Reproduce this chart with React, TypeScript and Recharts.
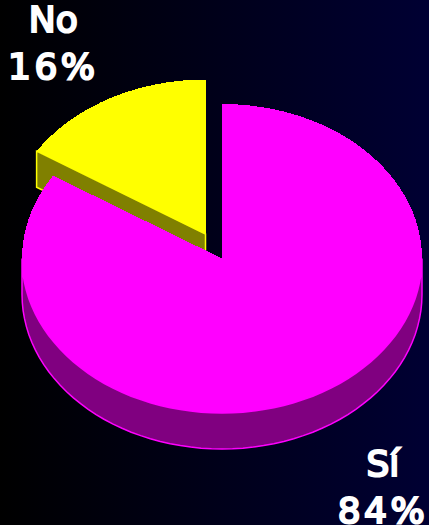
import React from 'react';
import { PieChart, Pie } from 'recharts';

const categories = ['No', 'Sí'];
const shares = [16, 84];
const topColors = ['#ffff00', '#ff00ff'];
const wallColors = ['#808000', '#800080'];

const rows = categories.map((name, i) => ({ name, value: shares[i] }));

// fake 3D look: the circle is squashed into an ellipse and given a wall
const SQUASH = 0.7725;
const DEPTH = 36;
const EXPLODE = [{ dx: -16.5, dy: -24.5 }, { dx: 0, dy: 0 }];
const LABEL_REACH = [{ x: 1.58, y: 1.41 }, { x: 1.67, y: 1.69 }];

const rad = (deg: number) => (deg * Math.PI) / 180;

const toPath = (pts: number[][]) =>
  pts.map((p, i) => `${i ? 'L' : 'M'}${p[0].toFixed(1)},${p[1].toFixed(1)}`).join(' ') + ' Z';

const Slice = (props: any) => {
  const { cx, cy, outerRadius, startAngle, endAngle, index } = props;
  const { dx, dy } = EXPLODE[index];
  const x0 = cx + dx;
  const y0 = cy + dy;
  const at = (deg: number, drop = 0) => [
    x0 + outerRadius * Math.cos(rad(deg)),
    y0 - outerRadius * SQUASH * Math.sin(rad(deg)) + drop,
  ];

  const arc: number[][] = [];
  const steps = Math.ceil(Math.abs(endAngle - startAngle) / 3);
  for (let s = 0; s <= steps; s++) {
    arc.push(at(startAngle + ((endAngle - startAngle) * s) / steps));
  }

  // wall under the part of the rim that faces the viewer
  let wall: number[][];
  if (index === 1) {
    const front: number[][] = [];
    for (let a = -180; a <= 0; a += 3) front.push(at(a));
    const low = front.map(p => [p[0], p[1] + DEPTH]).reverse();
    wall = [...front, ...low];
  } else {
    wall = [[x0, y0], at(startAngle), at(startAngle, DEPTH), [x0, y0 + DEPTH]];
  }

  const top = topColors[index];
  return (
    <g>
      <path d={toPath(wall)} fill={wallColors[index]} stroke={top} strokeWidth={1.5} />
      <path d={toPath([[x0, y0], ...arc])} fill={top} shapeRendering="crispEdges" />
    </g>
  );
};

const SliceLabel = (props: any) => {
  const { cx, cy, midAngle, outerRadius, name, value, index } = props;
  const reach = LABEL_REACH[index];
  const { dx, dy } = EXPLODE[index];
  const x = cx + dx + outerRadius * reach.x * Math.cos(rad(midAngle));
  const y = cy + dy - outerRadius * SQUASH * reach.y * Math.sin(rad(midAngle));
  return (
    <text
      x={x}
      y={y}
      textAnchor="middle"
      fill="#ffffff"
      stroke="#ffffff"
      strokeWidth={2.2}
      fontFamily="'DejaVu Sans', sans-serif"
      fontSize={36}
    >
      <tspan x={x} dy={-11}>{name}</tspan>
      <tspan x={x} dy={47} letterSpacing={3.5}>{value}%</tspan>
    </text>
  );
};

export default function App() {
  return (
    <div
      style={{
        width: 429,
        height: 525,
        overflow: 'hidden',
        background: 'linear-gradient(to right, #000000 0%, #000033 100%)',
      }}
    >
      <style>{'body { margin: 0; }'}</style>
      <PieChart width={429} height={525} margin={{ top: 0, right: 0, bottom: 0, left: 0 }}>
        <Pie
          data={rows}
          dataKey="value"
          nameKey="name"
          cx={222}
          cy={258.5}
          outerRadius={200}
          startAngle={147.6}
          endAngle={-212.4}
          stroke="none"
          shape={Slice}
          label={SliceLabel}
          labelLine={false}
          isAnimationActive={false}
        />
      </PieChart>
    </div>
  );
}
